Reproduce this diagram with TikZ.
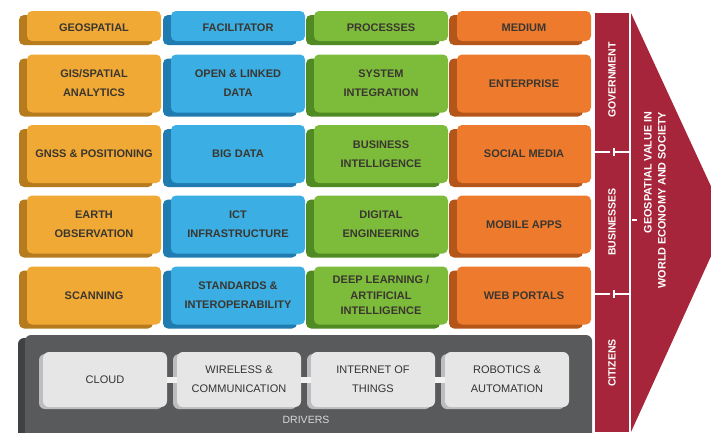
\documentclass[tikz,border=0pt]{standalone}
\usepackage{fontspec}
\setmainfont{Liberation Sans}
\usetikzlibrary{shadows}

\definecolor{yface}{HTML}{F1A935}
\definecolor{ydark}{HTML}{B57B1C}
\definecolor{bface}{HTML}{3BAEE3}
\definecolor{bdark}{HTML}{1F7BB0}
\definecolor{gface}{HTML}{7DBC3B}
\definecolor{gdark}{HTML}{4F8A22}
\definecolor{oface}{HTML}{EE7B2D}
\definecolor{odark}{HTML}{B4561A}
\definecolor{valred}{HTML}{A6253A}
\definecolor{panelgray}{HTML}{595A5C}
\definecolor{paneldark}{HTML}{404143}
\definecolor{lightbox}{HTML}{E6E6E7}
\definecolor{lightdark}{HTML}{BDBDBF}
\definecolor{celltext}{HTML}{3A3630}
\definecolor{drivertext}{HTML}{333333}

\tikzset{
  cell/.style={rounded corners=5pt, minimum width=134pt, minimum height=58pt,
    inner sep=0pt, align=center, text=celltext,
    font=\fontsize{11}{19}\selectfont\bfseries},
  hdr/.style={minimum height=30pt, text height=10pt, text depth=0pt},
  ycell/.style={cell, fill=yface,
    general shadow={fill=ydark, shadow xshift=-8pt, shadow yshift=-4pt}},
  bcell/.style={cell, fill=bface,
    general shadow={fill=bdark, shadow xshift=-8pt, shadow yshift=-4pt}},
  gcell/.style={cell, fill=gface,
    general shadow={fill=gdark, shadow xshift=-8pt, shadow yshift=-4pt}},
  ocell/.style={cell, fill=oface,
    general shadow={fill=odark, shadow xshift=-8pt, shadow yshift=-4pt}},
  panelbox/.style={rounded corners=6pt, fill=panelgray, inner sep=0pt,
    minimum width=567pt, minimum height=105pt,
    general shadow={fill=paneldark, shadow xshift=-7pt, shadow yshift=-3pt}},
  driverbox/.style={rounded corners=6pt, fill=lightbox, inner sep=0pt,
    minimum width=124pt, minimum height=55pt, align=center, text=drivertext,
    font=\fontsize{11}{19}\selectfont,
    general shadow={fill=lightdark, shadow xshift=-4pt, shadow yshift=-2pt}},
  link/.style={draw=white!95!black, line width=6pt},
  bandlabel/.style={rotate=90, text=white, inner sep=0pt,
    font=\fontsize{10.5}{12}\selectfont\bfseries},
  sep/.style={draw=white, line width=2pt},
}

\begin{document}
\begin{tikzpicture}[x=1pt, y=-1pt]
\useasboundingbox (0,0) rectangle (711,432);
\clip (0,0) rectangle (711,432);
\fill[white] (0,0) rectangle (711,432);

% column 1: geospatial
\node[ycell, hdr] (geo)  at (94,26)    {GEOSPATIAL};
\node[ycell]      (gis)  at (94,83.5)  {GIS/SPATIAL\\ANALYTICS};
\node[ycell]      (gnss) at (94,154)   {GNSS \& POSITIONING};
\node[ycell]      (eo)   at (94,224.5) {EARTH\\OBSERVATION};
\node[ycell]      (scan) at (94,295.5) {SCANNING};

% column 2: facilitator
\node[bcell, hdr] (fac)  at (238,26)    {FACILITATOR};
\node[bcell]      (old)  at (238,83.5)  {OPEN \& LINKED\\DATA};
\node[bcell]      (big)  at (238,154)   {BIG DATA};
\node[bcell]      (ict)  at (238,224.5) {ICT\\INFRASTRUCTURE};
\node[bcell]      (std)  at (238,295.5) {STANDARDS \&\\INTEROPERABILITY};

% column 3: processes
\node[gcell, hdr] (proc) at (381,26)    {PROCESSES};
\node[gcell]      (sys)  at (381,83.5)  {SYSTEM\\INTEGRATION};
\node[gcell]      (bi)   at (381,154)   {BUSINESS\\INTELLIGENCE};
\node[gcell]      (dig)  at (381,224.5) {DIGITAL\\ENGINEERING};
\node[gcell, font=\fontsize{11}{15.5}\selectfont\bfseries]
                  (ai)   at (381,295.5) {DEEP LEARNING /\\ARTIFICIAL\\INTELLIGENCE};

% column 4: medium
\node[ocell, hdr] (med)  at (524,26)    {MEDIUM};
\node[ocell]      (ent)  at (524,83.5)  {ENTERPRISE};
\node[ocell]      (soc)  at (524,154)   {SOCIAL MEDIA};
\node[ocell]      (mob)  at (524,224.5) {MOBILE APPS};
\node[ocell]      (web)  at (524,295.5) {WEB PORTALS};

% drivers panel
\node[panelbox] (drv) at (308.5,387.5) {};
\node[driverbox] (cloud) at (105,379.5) {CLOUD};
\node[driverbox] (wire)  at (239,379.5) {WIRELESS \&\\COMMUNICATION};
\node[driverbox] (iot)   at (373,379.5) {INTERNET OF\\THINGS};
\node[driverbox] (robot) at (507,379.5) {ROBOTICS \&\\AUTOMATION};
\draw[link] (cloud) -- (wire);
\draw[link] (wire) -- (iot);
\draw[link] (iot) -- (robot);
\node[text=white!85!black, font=\fontsize{10.5}{12}\selectfont] (drvlabel)
  at (306,420) {DRIVERS};

% stakeholder band
\fill[valred] (595,13) rectangle (629,432);
\node[bandlabel] (gov) at (612,80)  {GOVERNMENT};
\node[bandlabel] (bus) at (612,222) {BUSINESSES};
\node[bandlabel] (cit) at (612,363) {CITIZENS};
\draw[sep] (595,152) -- (610,152);
\draw[sep] (614,148) -- (614,156);
\draw[sep] (614,152) -- (630,152);
\draw[sep] (595,294) -- (610,294);
\draw[sep] (614,290) -- (614,298);
\draw[sep] (614,294) -- (630,294);

% value arrow
\fill[valred] (631,13) -- (727,221) -- (631,432) -- cycle;
\draw[sep] (632,220) -- (637,220);
\node[rotate=90, text=white, align=right, inner sep=0pt,
      font=\fontsize{10.8}{14}\selectfont\bfseries] (value) at (655,200)
  {GEOSPATIAL VALUE IN\\WORLD ECONOMY AND SOCIETY};
\end{tikzpicture}
\end{document}
